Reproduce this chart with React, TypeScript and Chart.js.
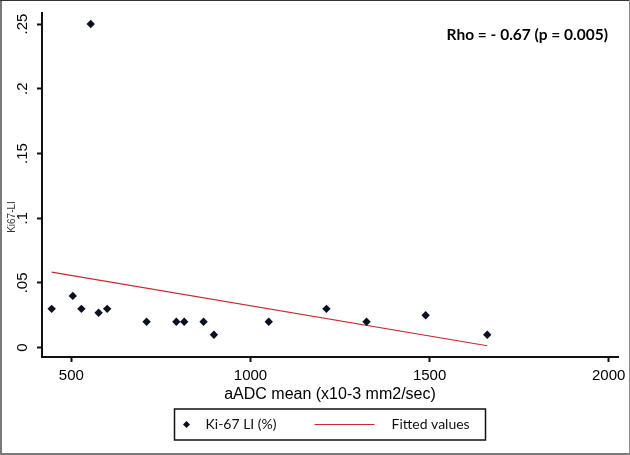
import React, { useEffect, useRef } from "react";
import { Chart, registerables } from "chart.js";

Chart.register(...registerables);

// Data
const adcValues = [445, 504, 528, 576, 600, 710, 793, 815, 869, 898, 1051, 1212, 1324, 1489, 1661, 554];
const ki67Values = [0.03, 0.04, 0.03, 0.027, 0.03, 0.02, 0.02, 0.02, 0.02, 0.01, 0.02, 0.03, 0.02, 0.025, 0.01, 0.25];
const fitX = [445, 1661];
const fitY = [0.0583, 0.0015];
const xTicks = [500, 1000, 1500, 2000];
const yTicks = [0, 0.05, 0.1, 0.15, 0.2, 0.25];
const yTickLabels = ["0", ".05", ".1", ".15", ".2", ".25"];
const seriesLabels = ["Ki-67 LI (%)", "Fitted values"];
const xTitle = "aADC mean (x10-3 mm2/sec)";
const yTitle = "Ki67-LI";
const annotationText = "Rho = - 0.67 (p = 0.005)";

const MARKER = "#0b1020";
const FIT = "#c8282e";
const SANS = "'Liberation Sans', Arial, sans-serif";
const CAL = "Lato, 'Open Sans', sans-serif";

const decorPlugin = {
  id: "decor",
  afterDraw(chart: any) {
    const ctx = chart.ctx;
    const area = chart.chartArea;
    const yScale = chart.scales.y;
    ctx.save();
    // y tick labels, rotated
    ctx.fillStyle = "#000";
    ctx.font = `15px ${SANS}`;
    ctx.textAlign = "center";
    ctx.textBaseline = "middle";
    yTicks.forEach((v, i) => {
      const py = yScale.getPixelForValue(v);
      ctx.save();
      ctx.translate(area.left - 19, py);
      ctx.rotate(-Math.PI / 2);
      ctx.fillText(yTickLabels[i], 0, 0);
      ctx.restore();
    });
    // y title
    ctx.save();
    ctx.font = `10px ${SANS}`;
    ctx.fillStyle = "#333";
    ctx.translate(12, (area.top + area.bottom) / 2 + 32);
    ctx.rotate(-Math.PI / 2);
    ctx.fillText(yTitle, 0, 0);
    ctx.restore();
    // annotation
    ctx.font = `bold 15.5px ${CAL}`;
    ctx.textAlign = "right";
    ctx.fillStyle = "#000";
    ctx.fillText(annotationText, area.right - 10, area.top + 22);
    // legend box
    const bw = 311;
    const bh = 31;
    const bx = (area.left + area.right) / 2 - bw / 2;
    const by = 409;
    ctx.lineWidth = 1.5;
    ctx.strokeStyle = "#111";
    ctx.strokeRect(bx, by, bw, bh);
    const cy = by + bh / 2;
    // marker entry
    ctx.fillStyle = MARKER;
    ctx.beginPath();
    ctx.moveTo(bx + 12, cy - 3.5);
    ctx.lineTo(bx + 15.5, cy);
    ctx.lineTo(bx + 12, cy + 3.5);
    ctx.lineTo(bx + 8.5, cy);
    ctx.closePath();
    ctx.fill();
    ctx.font = `14px ${CAL}`;
    ctx.textAlign = "left";
    ctx.fillStyle = "#111";
    ctx.fillText(chart.data.datasets[0].label, bx + 31, cy);
    ctx.strokeStyle = FIT;
    ctx.lineWidth = 1.2;
    ctx.beginPath();
    ctx.moveTo(bx + 140, cy);
    ctx.lineTo(bx + 200, cy);
    ctx.stroke();
    ctx.fillText(chart.data.datasets[1].label, bx + 217, cy);
    // outer frame
    ctx.fillStyle = "#7a7a7a";
    ctx.fillRect(0, 0, 2, chart.height);
    ctx.fillRect(0, chart.height - 2, chart.width, 2);
    ctx.fillStyle = "#333";
    ctx.fillRect(0, 0, chart.width, 1);
    ctx.fillStyle = "#888";
    ctx.fillRect(chart.width - 1, 0, 1, chart.height);
    ctx.restore();
  },
};

export default function App() {
  const ref = useRef<HTMLCanvasElement | null>(null);
  useEffect(() => {
    if (!ref.current) return;
    const scatter = adcValues.map((x, i) => ({ x, y: ki67Values[i] }));
    const fit = fitX.map((x, i) => ({ x, y: fitY[i] }));
    const chart = new Chart(ref.current, {
      type: "scatter",
      data: {
        datasets: [
          {
            label: seriesLabels[0],
            data: scatter,
            pointStyle: "rectRot",
            pointRadius: 4.2,
            backgroundColor: MARKER,
            borderColor: MARKER,
            borderWidth: 0,
          },
          {
            label: seriesLabels[1],
            data: fit,
            type: "line",
            showLine: true,
            pointRadius: 0,
            borderColor: FIT,
            borderWidth: 1.2,
            fill: false,
          } as any,
        ],
      },
      options: {
        responsive: false,
        animation: false,
        devicePixelRatio: 1,
        layout: { padding: { left: 0, top: 13, right: 12, bottom: 50 } },
        plugins: { legend: { display: false }, tooltip: { enabled: false } },
        scales: {
          x: {
            type: "linear",
            min: 418,
            max: 2026,
            afterBuildTicks: (s: any) => {
              s.ticks = xTicks.map((v) => ({ value: v }));
            },
            afterFit: (s: any) => {
              s.height = 48;
              s.paddingLeft = 0;
              s.paddingRight = 0;
            },
            ticks: {
              color: "#000",
              font: { family: SANS, size: 15 },
              padding: 5,
              maxRotation: 0,
              minRotation: 0,
              autoSkip: false,
              callback: (v: any) => String(v),
            },
            grid: {
              display: true,
              drawOnChartArea: false,
              drawTicks: true,
              tickLength: 5,
              tickWidth: 2,
              color: "#111",
            },
            border: { display: true, color: "#111", width: 2 },
            title: {
              display: true,
              text: xTitle,
              color: "#000",
              font: { family: SANS, size: 16 },
              padding: { top: 0, bottom: 0.4 },
            },
          },
          y: {
            type: "linear",
            min: -0.0072,
            max: 0.2585,
            afterBuildTicks: (s: any) => {
              s.ticks = yTicks.map((v) => ({ value: v }));
            },
            afterFit: (s: any) => {
              s.width = 42;
              s.paddingTop = 0;
              s.paddingBottom = 0;
            },
            ticks: { display: false },
            grid: {
              display: true,
              drawOnChartArea: false,
              drawTicks: true,
              tickLength: 5,
              tickWidth: 2,
              color: "#111",
            },
            border: { display: true, color: "#111", width: 2 },
          },
        },
      },
      plugins: [decorPlugin],
    });
    return () => chart.destroy();
  }, []);
  return (
    <div style={{ position: "fixed", left: 0, top: 0, width: 630, height: 455, background: "#fff" }}>
      <canvas ref={ref} width={630} height={455} />
    </div>
  );
}
